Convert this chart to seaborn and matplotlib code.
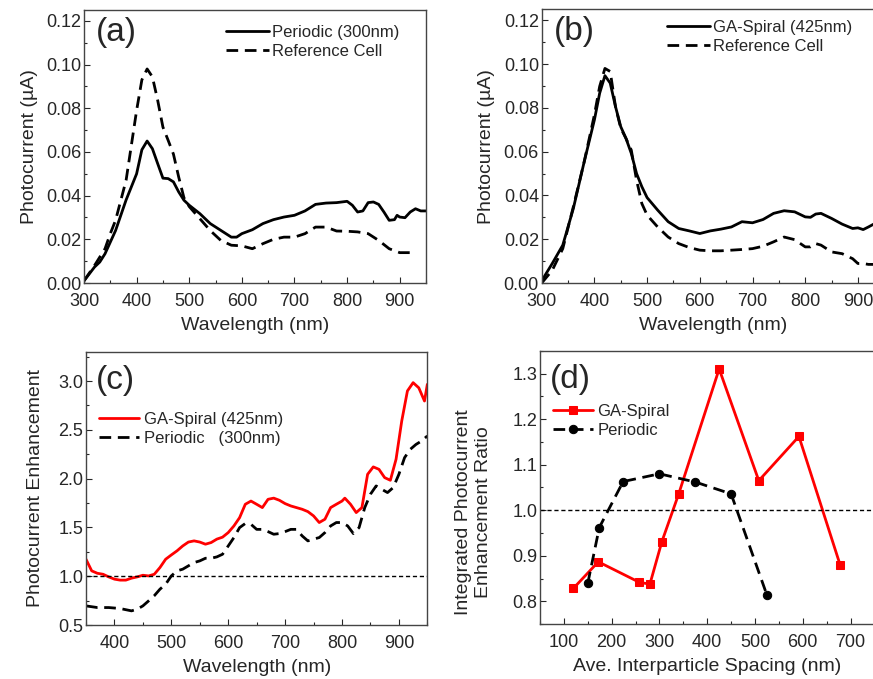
import numpy as np
import pandas as pd
import matplotlib
matplotlib.use('Agg')
import matplotlib.pyplot as plt
import seaborn as sns
from matplotlib.ticker import MultipleLocator

# ---- data ----
# (a) periodic array vs reference cell
wl_a_per = [300, 320, 330, 340, 360, 380, 400, 410, 420, 430, 440, 450, 460, 470, 480, 490, 500,
            520, 540, 560, 580, 590, 600, 620, 640, 660, 680, 700, 720, 740, 760, 780, 800, 810,
            820, 830, 840, 850, 860, 870, 880, 890, 895, 900, 910, 920, 930, 940, 950]
pc_a_per = [0.001, 0.0073, 0.0096, 0.0134, 0.024, 0.038, 0.050, 0.061, 0.065, 0.0615, 0.0547,
            0.048, 0.0478, 0.0463, 0.0417, 0.0379, 0.0356, 0.0318, 0.0272, 0.0241, 0.021, 0.021,
            0.0226, 0.0244, 0.0272, 0.029, 0.0302, 0.031, 0.033, 0.036, 0.0366, 0.0368, 0.0374,
            0.0356, 0.0325, 0.033, 0.0368, 0.0371, 0.036, 0.0325, 0.0287, 0.029, 0.031, 0.0302,
            0.0299, 0.0325, 0.034, 0.033, 0.033]
wl_a_ref = [300, 320, 340, 350, 360, 380, 400, 410, 420, 430, 440, 450, 460, 470, 480, 490, 500,
            520, 540, 560, 580, 600, 620, 640, 660, 680, 700, 720, 740, 760, 780, 800, 820, 840,
            860, 880, 900, 920, 930]
pc_a_ref = [0.001, 0.008, 0.0157, 0.0226, 0.0287, 0.047, 0.079, 0.093, 0.098, 0.0944, 0.0837,
            0.0714, 0.0653, 0.059, 0.0485, 0.039, 0.035, 0.0295, 0.024, 0.0195, 0.0173, 0.017,
            0.0157, 0.018, 0.020, 0.021, 0.021, 0.0226, 0.0256, 0.0256, 0.0238, 0.0237, 0.0234,
            0.0226, 0.0195, 0.0157, 0.0139, 0.0139, 0.015]

# (b) GA-spiral vs reference cell
wl_b = [300, 320, 340, 360, 380, 400, 410, 420, 430, 440, 450, 460, 470, 480, 490, 500, 520, 540,
        560, 580, 600, 620, 640, 660, 680, 700, 720, 740, 760, 780, 800, 810, 820, 830, 850, 870,
        890, 900, 910, 920, 930, 950]
pc_b_spiral = [0.001, 0.0089, 0.0173, 0.034, 0.0547, 0.0745, 0.0867, 0.0947, 0.0913, 0.0806,
               0.0714, 0.066, 0.0592, 0.050, 0.044, 0.039, 0.0333, 0.028, 0.0249, 0.0238, 0.0226,
               0.0238, 0.0246, 0.0256, 0.028, 0.0275, 0.029, 0.0318, 0.033, 0.0325, 0.0302,
               0.030, 0.0315, 0.0318, 0.0295, 0.0269, 0.0249, 0.0252, 0.0244, 0.0256, 0.0269, 0.028]
pc_b_ref = [0.0, 0.0058, 0.0157, 0.0348, 0.0547, 0.0768, 0.0898, 0.098, 0.0966, 0.0806, 0.0707,
            0.066, 0.0607, 0.047, 0.0363, 0.031, 0.0256, 0.021, 0.018, 0.0162, 0.015, 0.0147,
            0.0147, 0.015, 0.0153, 0.0157, 0.0168, 0.0188, 0.021, 0.0198, 0.0165, 0.0165, 0.018,
            0.0173, 0.0142, 0.0134, 0.0111, 0.0089, 0.0089, 0.0085, 0.0085, 0.008]

# (c) enhancement spectra
wl_c_spiral = [350, 360, 370, 380, 390, 400, 410, 420, 430, 440, 450, 460, 470, 480, 490, 500,
               510, 520, 530, 540, 550, 560, 570, 580, 590, 600, 610, 620, 630, 640, 650, 660,
               670, 680, 690, 700, 710, 720, 730, 740, 750, 760, 770, 780, 790, 800, 805, 815,
               825, 835, 845, 855, 865, 875, 885, 895, 905, 915, 925, 935, 945, 950]
enh_spiral = [1.174, 1.055, 1.03, 1.02, 0.993, 0.97, 0.96, 0.96, 0.98, 0.993, 1.01, 1.003, 1.02,
              1.089, 1.174, 1.218, 1.26, 1.31, 1.35, 1.362, 1.35, 1.328, 1.345, 1.38, 1.40, 1.447,
              1.515, 1.60, 1.737, 1.77, 1.737, 1.703, 1.788, 1.80, 1.778, 1.744, 1.72, 1.703,
              1.686, 1.662, 1.618, 1.55, 1.584, 1.703, 1.737, 1.77, 1.80, 1.737, 1.652, 1.703,
              2.044, 2.12, 2.095, 2.01, 1.983, 2.198, 2.59, 2.898, 2.983, 2.93, 2.795, 2.966]
wl_c_per = [350, 370, 390, 410, 430, 440, 450, 460, 470, 480, 490, 500, 510, 520, 530, 540, 550,
            560, 570, 580, 590, 600, 610, 620, 630, 640, 650, 660, 670, 680, 690, 700, 710, 720,
            730, 740, 750, 760, 770, 780, 790, 800, 810, 820, 830, 840, 850, 860, 870, 880, 890,
            900, 910, 920, 930, 940, 950]
enh_per = [0.696, 0.679, 0.679, 0.669, 0.645, 0.662, 0.696, 0.747, 0.80, 0.867, 0.918, 1.003,
           1.055, 1.072, 1.106, 1.14, 1.157, 1.184, 1.184, 1.198, 1.225, 1.31, 1.396, 1.498, 1.54,
           1.532, 1.48, 1.48, 1.457, 1.43, 1.437, 1.457, 1.48, 1.48, 1.413, 1.362, 1.38, 1.396,
           1.447, 1.515, 1.55, 1.55, 1.515, 1.437, 1.498, 1.703, 1.84, 1.925, 1.89, 1.857, 1.908,
           2.044, 2.215, 2.30, 2.35, 2.386, 2.437]

# (d) integrated enhancement ratio vs spacing
spacing_spiral = [120, 172, 258, 280, 305, 340, 425, 508, 592, 678]
ratio_spiral = [0.829, 0.887, 0.842, 0.838, 0.931, 1.035, 1.310, 1.065, 1.162, 0.881]
spacing_per = [150, 174, 224, 300, 375, 450, 525]
ratio_per = [0.840, 0.962, 1.063, 1.080, 1.062, 1.036, 0.814]

sns.set_style("ticks")
plt.rcParams['font.family'] = ['Liberation Sans', 'DejaVu Sans']
plt.rcParams['xtick.direction'] = 'in'
plt.rcParams['ytick.direction'] = 'in'

fig = plt.figure(figsize=(8.73, 6.79), dpi=100)
ax_a = fig.add_axes([0.0962, 0.5832, 0.3918, 0.4021])
ax_b = fig.add_axes([0.6205, 0.5832, 0.3924, 0.4031])
ax_c = fig.add_axes([0.0985, 0.0795, 0.3910, 0.4025])
ax_d = fig.add_axes([0.6186, 0.0806, 0.3830, 0.4029])

dash = (0, (4.2, 2.4))
lw = 2.0
lab_fs = 14
leg_fs = 12

sns.lineplot(x=wl_a_per, y=pc_a_per, ax=ax_a, color='black', lw=lw, label='Periodic (300nm)')
sns.lineplot(x=wl_a_ref, y=pc_a_ref, ax=ax_a, color='black', lw=lw, linestyle=dash,
             label='Reference Cell')
sns.lineplot(x=wl_b, y=pc_b_spiral, ax=ax_b, color='black', lw=lw, label='GA-Spiral (425nm)')
sns.lineplot(x=wl_b, y=pc_b_ref, ax=ax_b, color='black', lw=lw, linestyle=dash,
             label='Reference Cell')

for ax, tag, leg_x, leg_y in [(ax_a, '(a)', 0.395, 0.97), (ax_b, '(b)', 0.345, 0.987)]:
    ax.set_xlim(300, 950)
    ax.set_ylim(0, 0.125)
    ax.xaxis.set_major_locator(MultipleLocator(100))
    ax.xaxis.set_minor_locator(MultipleLocator(50))
    ax.yaxis.set_major_locator(MultipleLocator(0.02))
    ax.yaxis.set_minor_locator(MultipleLocator(0.01))
    ax.yaxis.set_major_formatter(matplotlib.ticker.FormatStrFormatter('%.2f'))
    ax.set_xlabel('Wavelength (nm)', fontsize=lab_fs, labelpad=5)
    ax.set_ylabel('Photocurrent (\u00b5A)', fontsize=lab_fs, labelpad=6)
    ax.text(0.035, 0.975, tag, transform=ax.transAxes, fontsize=24, va='top', ha='left')
    ax.legend(loc='upper left', bbox_to_anchor=(leg_x, leg_y), frameon=False, fontsize=leg_fs,
              handlelength=2.6, borderaxespad=0.0, labelspacing=0.25, handletextpad=0.2)

# (c)
sns.lineplot(x=wl_c_spiral, y=enh_spiral, ax=ax_c, color='red', lw=lw, label='GA-Spiral (425nm)')
sns.lineplot(x=wl_c_per, y=enh_per, ax=ax_c, color='black', lw=lw, linestyle=dash,
             label='Periodic   (300nm)')
ax_c.axhline(1.0, color='black', lw=1, linestyle=(0, (3, 2)))
ax_c.set_xlim(350, 950)
ax_c.set_ylim(0.5, 3.3)
ax_c.xaxis.set_major_locator(MultipleLocator(100))
ax_c.xaxis.set_minor_locator(MultipleLocator(50))
ax_c.yaxis.set_major_locator(MultipleLocator(0.5))
ax_c.yaxis.set_minor_locator(MultipleLocator(0.25))
ax_c.set_xlabel('Wavelength (nm)', fontsize=lab_fs, labelpad=5)
ax_c.set_ylabel('Photocurrent Enhancement', fontsize=lab_fs, labelpad=10)
ax_c.text(0.03, 0.95, '(c)', transform=ax_c.transAxes, fontsize=24, va='top', ha='left')
ax_c.legend(loc='upper left', bbox_to_anchor=(0.02, 0.805), frameon=False, fontsize=leg_fs,
            handlelength=2.35, borderaxespad=0.0, labelspacing=0.25, handletextpad=0.3)

# (d)
sns.lineplot(x=spacing_spiral, y=ratio_spiral, ax=ax_d, color='red', lw=lw, marker='s',
             markersize=6, markeredgecolor='red', label='GA-Spiral')
sns.lineplot(x=spacing_per, y=ratio_per, ax=ax_d, color='black', lw=lw, linestyle=dash,
             marker='o', markersize=6, markeredgecolor='black', label='Periodic')
ax_d.axhline(1.0, color='black', lw=1, linestyle=(0, (3, 2)))
ax_d.set_xlim(50, 750)
ax_d.set_ylim(0.75, 1.35)
ax_d.xaxis.set_major_locator(MultipleLocator(100))
ax_d.xaxis.set_minor_locator(MultipleLocator(50))
ax_d.yaxis.set_major_locator(MultipleLocator(0.1))
ax_d.yaxis.set_minor_locator(MultipleLocator(0.05))
ax_d.set_xlabel('Ave. Interparticle Spacing (nm)', fontsize=lab_fs, labelpad=5)
ax_d.set_ylabel('Integrated Photocurrent\nEnhancement Ratio', fontsize=lab_fs)
ax_d.yaxis.set_label_coords(-0.145, 0.41)
ax_d.text(0.03, 0.95, '(d)', transform=ax_d.transAxes, fontsize=24, va='top', ha='left')
ax_d.legend(loc='upper left', bbox_to_anchor=(0.02, 0.83), frameon=False, fontsize=leg_fs,
            handlelength=2.35, borderaxespad=0.0, labelspacing=0.25, handletextpad=0.3)

for ax in (ax_a, ax_b, ax_c, ax_d):
    for s in ax.spines.values():
        s.set_color('#444444')
        s.set_linewidth(1.0)
    ax.tick_params(which='major', length=4, width=0.8, labelsize=13)
    ax.tick_params(axis='x', which='major', pad=7)
    ax.tick_params(axis='y', which='major', pad=2)
    ax.tick_params(which='minor', length=2.5, width=0.8)
    ax.tick_params(top=False, right=False, which='both')

fig.savefig('out.png', dpi=100)
